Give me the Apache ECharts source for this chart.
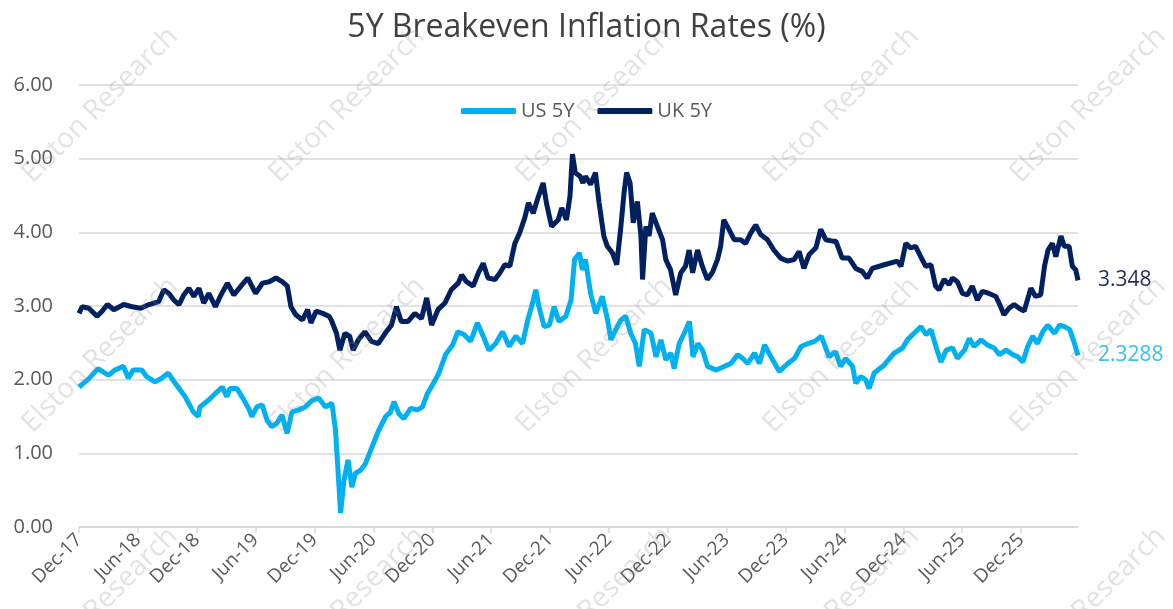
<!DOCTYPE html>
<html>
<head>
<meta charset="utf-8">
<title>5Y Breakeven Inflation Rates</title>
<script src="https://cdn.jsdelivr.net/npm/echarts@6/dist/echarts.min.js"></script>
<style>
  html, body { margin: 0; padding: 0; background: #fff; }
  #chart { width: 1173px; height: 609px; }
</style>
</head>
<body>
<div id="chart"></div>
<script>
// tick labels every 6 months, starting Dec-17
const tickLabels = ["Dec-17", "Jun-18", "Dec-18", "Jun-19", "Dec-19", "Jun-20", "Dec-20", "Jun-21",
  "Dec-21", "Jun-22", "Dec-22", "Jun-23", "Dec-23", "Jun-24", "Dec-24", "Jun-25", "Dec-25"];

const seriesNames = ["US 5Y", "UK 5Y"];

const usDates = [
  "2017-12-01", "2017-12-29", "2018-01-30", "2018-03-01", "2018-03-21", "2018-04-17", "2018-05-02", "2018-05-17",
  "2018-06-13", "2018-06-28", "2018-07-24", "2018-08-14", "2018-09-04", "2018-09-25", "2018-10-26", "2018-11-21",
  "2018-12-06", "2018-12-11", "2019-01-07", "2019-01-28", "2019-02-18", "2019-03-03", "2019-03-13", "2019-04-04",
  "2019-04-19", "2019-05-10", "2019-05-20", "2019-06-05", "2019-06-21", "2019-07-06", "2019-07-21", "2019-08-06",
  "2019-08-22", "2019-09-07", "2019-09-22", "2019-10-13", "2019-11-03", "2019-11-24", "2019-12-14", "2020-01-05",
  "2020-01-25", "2020-02-05", "2020-02-13", "2020-02-20", "2020-03-01", "2020-03-14", "2020-03-26", "2020-04-06",
  "2020-04-22", "2020-05-07", "2020-05-28", "2020-06-18", "2020-07-09", "2020-07-24", "2020-08-04", "2020-08-19",
  "2020-09-04", "2020-09-25", "2020-10-16", "2020-11-01", "2020-11-16", "2020-12-02", "2020-12-22", "2021-01-12",
  "2021-02-03", "2021-02-18", "2021-03-09", "2021-03-29", "2021-04-19", "2021-05-05", "2021-05-25", "2021-06-15",
  "2021-07-06", "2021-07-27", "2021-08-17", "2021-09-07", "2021-09-23", "2021-10-08", "2021-10-18", "2021-10-28",
  "2021-11-13", "2021-11-29", "2021-12-14", "2021-12-29", "2022-01-20", "2022-02-05", "2022-02-15", "2022-03-01",
  "2022-03-10", "2022-03-20", "2022-04-05", "2022-04-21", "2022-05-11", "2022-05-28", "2022-06-07", "2022-06-22",
  "2022-07-08", "2022-07-23", "2022-08-08", "2022-08-23", "2022-09-04", "2022-09-19", "2022-10-10", "2022-10-26",
  "2022-11-10", "2022-11-25", "2022-12-11", "2022-12-21", "2023-01-06", "2023-01-22", "2023-02-07", "2023-02-17",
  "2023-03-03", "2023-03-18", "2023-04-03", "2023-04-29", "2023-05-24", "2023-06-14", "2023-07-05", "2023-07-20",
  "2023-08-06", "2023-08-27", "2023-09-11", "2023-09-27", "2023-10-17", "2023-11-12", "2023-12-08", "2023-12-30",
  "2024-01-19", "2024-02-09", "2024-02-29", "2024-03-21", "2024-04-14", "2024-05-04", "2024-05-20", "2024-06-05",
  "2024-06-26", "2024-07-06", "2024-07-21", "2024-08-06", "2024-08-17", "2024-09-02", "2024-10-03", "2024-11-03",
  "2024-11-29", "2024-12-14", "2025-01-04", "2025-01-26", "2025-02-10", "2025-02-24", "2025-03-11", "2025-03-27",
  "2025-04-12", "2025-05-02", "2025-05-17", "2025-06-08", "2025-06-23", "2025-07-08", "2025-07-30", "2025-08-19",
  "2025-09-09", "2025-09-25", "2025-10-16", "2025-11-06", "2025-11-21", "2025-12-07", "2025-12-22", "2026-01-07",
  "2026-01-22", "2026-02-07", "2026-02-21", "2026-03-14", "2026-03-30", "2026-04-14", "2026-04-30", "2026-05-15",
  "2026-05-26"
];
const usValues = [
  1.90, 2.00, 2.15, 2.06, 2.13, 2.18, 2.02, 2.13,
  2.13, 2.04, 1.97, 2.02, 2.09, 1.95, 1.77, 1.56,
  1.50, 1.63, 1.72, 1.81, 1.90, 1.77, 1.88, 1.88,
  1.77, 1.61, 1.50, 1.63, 1.66, 1.45, 1.36, 1.41,
  1.52, 1.27, 1.56, 1.59, 1.63, 1.72, 1.75, 1.63,
  1.68, 1.32, 0.73, 0.19, 0.63, 0.91, 0.54, 0.73,
  0.77, 0.86, 1.09, 1.32, 1.50, 1.56, 1.70, 1.54,
  1.47, 1.61, 1.59, 1.63, 1.81, 1.93, 2.09, 2.34,
  2.47, 2.65, 2.61, 2.52, 2.77, 2.61, 2.40, 2.49,
  2.65, 2.45, 2.59, 2.49, 2.81, 3.04, 3.22, 2.99,
  2.72, 2.74, 2.99, 2.79, 2.86, 3.08, 3.63, 3.72,
  3.49, 3.63, 3.17, 2.90, 3.13, 2.81, 2.54, 2.68,
  2.81, 2.86, 2.63, 2.49, 2.18, 2.68, 2.63, 2.31,
  2.54, 2.27, 2.36, 2.15, 2.49, 2.63, 2.79, 2.31,
  2.49, 2.40, 2.18, 2.13, 2.18, 2.22, 2.34, 2.29,
  2.22, 2.36, 2.22, 2.47, 2.31, 2.11, 2.22, 2.29,
  2.45, 2.49, 2.52, 2.59, 2.31, 2.38, 2.18, 2.29,
  2.18, 1.95, 2.04, 2.00, 1.88, 2.09, 2.20, 2.36,
  2.43, 2.54, 2.63, 2.72, 2.61, 2.68, 2.45, 2.24,
  2.40, 2.43, 2.29, 2.40, 2.56, 2.45, 2.54, 2.47,
  2.43, 2.34, 2.40, 2.34, 2.31, 2.24, 2.45, 2.59,
  2.49, 2.65, 2.74, 2.63, 2.74, 2.72, 2.68, 2.49,
  2.3288
];

const ukDates = [
  "2017-12-01", "2017-12-11", "2018-01-01", "2018-01-27", "2018-02-11", "2018-02-26", "2018-03-18", "2018-04-18",
  "2018-05-14", "2018-06-10", "2018-07-05", "2018-08-05", "2018-08-21", "2018-09-06", "2018-09-21", "2018-10-07",
  "2018-10-22", "2018-11-07", "2018-11-22", "2018-12-08", "2018-12-23", "2019-01-08", "2019-01-29", "2019-02-14",
  "2019-03-05", "2019-03-25", "2019-04-16", "2019-05-07", "2019-06-01", "2019-06-22", "2019-07-13", "2019-08-03",
  "2019-08-23", "2019-09-08", "2019-09-19", "2019-10-04", "2019-10-25", "2019-11-10", "2019-11-20", "2019-12-06",
  "2019-12-27", "2020-01-16", "2020-01-23", "2020-02-08", "2020-02-18", "2020-03-04", "2020-03-19", "2020-03-30",
  "2020-04-15", "2020-05-05", "2020-05-26", "2020-06-16", "2020-07-07", "2020-07-27", "2020-08-12", "2020-08-27",
  "2020-09-17", "2020-10-08", "2020-10-29", "2020-11-14", "2020-11-29", "2020-12-19", "2021-01-10", "2021-01-30",
  "2021-02-19", "2021-03-01", "2021-03-16", "2021-04-06", "2021-04-22", "2021-05-07", "2021-05-22", "2021-06-13",
  "2021-06-28", "2021-07-13", "2021-07-29", "2021-08-14", "2021-08-29", "2021-09-14", "2021-09-25", "2021-10-10",
  "2021-10-25", "2021-11-10", "2021-11-20", "2021-12-06", "2021-12-27", "2022-01-07", "2022-01-22", "2022-02-02",
  "2022-02-09", "2022-02-17", "2022-03-03", "2022-03-12", "2022-03-20", "2022-04-05", "2022-04-20", "2022-05-01",
  "2022-05-16", "2022-05-27", "2022-06-12", "2022-06-25", "2022-07-07", "2022-07-18", "2022-07-26", "2022-08-06",
  "2022-08-16", "2022-08-29", "2022-09-09", "2022-09-14", "2022-09-24", "2022-10-04", "2022-10-14", "2022-10-30",
  "2022-11-15", "2022-11-25", "2022-12-10", "2022-12-26", "2023-01-11", "2023-01-26", "2023-02-06", "2023-02-16",
  "2023-03-02", "2023-03-17", "2023-04-02", "2023-04-17", "2023-05-03", "2023-05-13", "2023-05-23", "2023-06-08",
  "2023-06-24", "2023-07-14", "2023-07-30", "2023-08-15", "2023-08-31", "2023-09-15", "2023-10-06", "2023-10-26",
  "2023-11-16", "2023-12-07", "2023-12-28", "2024-01-13", "2024-01-28", "2024-02-13", "2024-03-04", "2024-03-19",
  "2024-04-04", "2024-04-25", "2024-05-05", "2024-05-25", "2024-06-15", "2024-07-06", "2024-07-26", "2024-08-11",
  "2024-08-27", "2024-10-03", "2024-11-13", "2024-11-24", "2024-12-09", "2024-12-24", "2025-01-09", "2025-01-25",
  "2025-02-09", "2025-02-24", "2025-03-10", "2025-03-21", "2025-04-06", "2025-04-21", "2025-05-01", "2025-05-17",
  "2025-06-02", "2025-06-17", "2025-07-02", "2025-07-18", "2025-08-03", "2025-08-24", "2025-09-14", "2025-09-29",
  "2025-10-09", "2025-10-25", "2025-11-10", "2025-11-25", "2025-12-11", "2025-12-21", "2026-01-01", "2026-01-16",
  "2026-02-01", "2026-02-12", "2026-02-22", "2026-03-07", "2026-03-18", "2026-04-03", "2026-04-13", "2026-04-28",
  "2026-05-08", "2026-05-19", "2026-05-26"
];
const ukValues = [
  2.90, 2.99, 2.97, 2.86, 2.93, 3.02, 2.95, 3.02,
  2.99, 2.97, 3.02, 3.06, 3.22, 3.17, 3.08, 3.02,
  3.15, 3.24, 3.13, 3.24, 3.04, 3.17, 2.99, 3.15,
  3.31, 3.15, 3.27, 3.38, 3.17, 3.31, 3.33, 3.38,
  3.33, 3.27, 2.99, 2.88, 2.81, 2.95, 2.77, 2.93,
  2.90, 2.86, 2.81, 2.63, 2.40, 2.63, 2.59, 2.40,
  2.54, 2.65, 2.52, 2.49, 2.63, 2.74, 2.99, 2.79,
  2.79, 2.90, 2.83, 3.11, 2.74, 2.95, 3.04, 3.22,
  3.31, 3.42, 3.33, 3.27, 3.45, 3.58, 3.38, 3.36,
  3.45, 3.56, 3.54, 3.85, 3.99, 4.20, 4.40, 4.26,
  4.47, 4.67, 4.40, 4.08, 4.17, 4.33, 4.17, 4.49,
  5.06, 4.81, 4.76, 4.67, 4.76, 4.65, 4.81, 4.40,
  3.95, 3.81, 3.72, 3.56, 4.04, 4.54, 4.81, 4.67,
  4.13, 4.42, 3.95, 3.36, 4.08, 3.95, 4.26, 4.08,
  3.90, 3.63, 3.49, 3.15, 3.45, 3.54, 3.76, 3.45,
  3.76, 3.54, 3.36, 3.45, 3.63, 3.81, 4.17, 4.04,
  3.90, 3.90, 3.85, 3.99, 4.10, 3.97, 3.90, 3.76,
  3.65, 3.61, 3.63, 3.74, 3.51, 3.70, 3.79, 4.04,
  3.90, 3.88, 3.88, 3.65, 3.65, 3.51, 3.47, 3.38,
  3.51, 3.56, 3.61, 3.54, 3.85, 3.79, 3.81, 3.67,
  3.54, 3.56, 3.27, 3.22, 3.36, 3.29, 3.38, 3.33,
  3.17, 3.15, 3.27, 3.08, 3.20, 3.17, 3.13, 2.99,
  2.88, 2.97, 3.02, 2.97, 2.93, 3.08, 3.24, 3.13,
  3.15, 3.54, 3.76, 3.85, 3.67, 3.95, 3.81, 3.81,
  3.54, 3.49, 3.348
];

// months elapsed since 1 Dec 2017
function toMonth(s) {
  const [y, m, d] = s.split("-").map(Number);
  return (y - 2017) * 12 + (m - 12) + (d - 1) / new Date(y, m, 0).getDate();
}

const usData = usDates.map((d, i) => [toMonth(d), usValues[i]]);
const ukData = ukDates.map((d, i) => [toMonth(d), ukValues[i]]);
const tickValues = tickLabels.map((_, i) => i * 6);

const US_COLOR = "#00b0f0";
const UK_COLOR = "#002060";
const FONT = "'Open Sans', 'Noto Sans', sans-serif";

// watermark, repeated
const marks = [];
[105, 355, 605].forEach(y => {
  [100, 347, 594, 841, 1088].forEach(x => {
    marks.push({
      type: "text",
      x: x,
      y: y,
      rotation: Math.PI / 4,
      z: 100,
      silent: true,
      style: {
        text: "Elston Research",
        font: "28px " + FONT,
        fill: "rgba(140,140,140,0.25)",
        align: "center",
        verticalAlign: "middle"
      }
    });
  });
});

const chart = echarts.init(document.getElementById("chart"));

const option = {
  animation: false,
  backgroundColor: "#fff",
  title: {
    text: "5Y Breakeven Inflation Rates (%)",
    left: "center",
    top: 7,
    textStyle: { fontFamily: FONT, fontSize: 32, fontWeight: "normal", color: "#404040" }
  },
  legend: {
    data: seriesNames,
    top: 96,
    left: "center",
    icon: "roundRect",
    itemWidth: 55,
    itemHeight: 6,
    itemGap: 23,
    textStyle: { fontFamily: FONT, fontSize: 20, color: "#595959" }
  },
  grid: { left: 79, right: 95, top: 85, bottom: 82 },
  xAxis: {
    type: "value",
    min: 0,
    max: toMonth(usDates[usDates.length - 1]),
    axisLine: { lineStyle: { color: "#d9d9d9", width: 1.5 } },
    axisTick: { show: true, length: 6, lineStyle: { color: "#d9d9d9", width: 1.5 }, customValues: tickValues },
    splitLine: { show: false },
    axisLabel: {
      customValues: tickValues,
      rotate: 45,
      margin: 10,
      fontFamily: FONT,
      fontSize: 19,
      color: "#595959",
      formatter: v => tickLabels[Math.round(v / 6)] || ""
    }
  },
  yAxis: {
    type: "value",
    min: 0,
    max: 6,
    interval: 1,
    axisLine: { show: false },
    axisTick: { show: false },
    splitLine: { lineStyle: { color: "#d9d9d9", width: 1.5 } },
    axisLabel: {
      margin: 26,
      fontFamily: FONT,
      fontSize: 20,
      color: "#595959",
      formatter: v => v.toFixed(2)
    }
  },
  series: [
    {
      name: seriesNames[0],
      type: "line",
      data: usData,
      showSymbol: false,
      color: US_COLOR,
      lineStyle: { color: US_COLOR, width: 5 },
      endLabel: {
        show: true,
        distance: 20,
        formatter: p => String(p.value[1]),
        fontFamily: FONT,
        fontSize: 21,
        color: "#3cc0f0"
      }
    },
    {
      name: seriesNames[1],
      type: "line",
      data: ukData,
      showSymbol: false,
      color: UK_COLOR,
      lineStyle: { color: UK_COLOR, width: 5 },
      endLabel: {
        show: true,
        distance: 20,
        formatter: p => String(p.value[1]),
        fontFamily: FONT,
        fontSize: 21,
        color: "#1f2d5c"
      }
    }
  ],
  graphic: { elements: marks }
};

chart.setOption(option);
window.addEventListener("resize", () => chart.resize());
</script>
</body>
</html>
